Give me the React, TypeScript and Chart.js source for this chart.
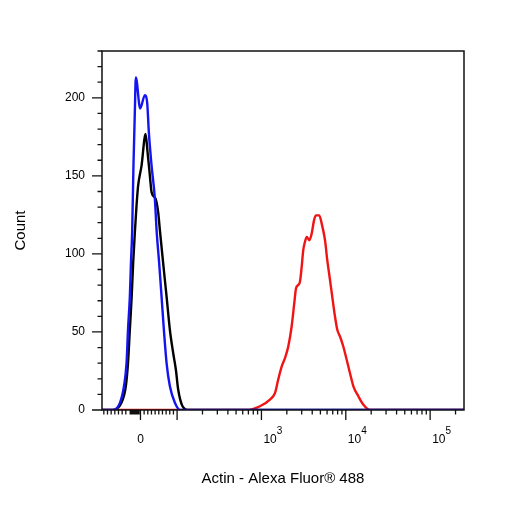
import { useEffect, useRef } from 'react'
import { Chart, registerables } from 'chart.js'

Chart.register(...registerables)

// fluorescence range shown on the biexponential x axis
const X_MIN = -105
const X_MAX = 252000
const Y_MAX = 230

// unstained / isotype (blue)
const blueX = [-105, -97, -75, -56, -45, -38, -34, -29, -26, -22.7, -19.1, -15.3, -12.6, -0.8, 12, 18.3, 22.9, 30.3, 39.3, 44, 51.1, 57.6, 63.9, 71.3, 80.3, 94, 108, 252000]
const blueY = [0, 0, 0, 4.6, 15.2, 30.1, 51.4, 72.6, 93.9, 114, 156.6, 191.7, 213, 193.2, 201.7, 197, 177.9, 156.6, 135.4, 115.2, 93.9, 72.6, 51.4, 30.1, 15.2, 4.6, 0, 0]

// control (black)
const blackX = [-105, -84, -75, -52, -40, -34, -29, -24, -20, -15.3, -10.7, -6.3, 3, 13.9, 19.4, 25.7, 30.3, 41.2, 48.3, 53, 62, 71.3, 80.3, 89.3, 96.7, 103, 116, 136, 252000]
const blackY = [0, 0, 0, 4.6, 15.2, 30.1, 51.4, 72.6, 93.9, 113.9, 131.1, 143.9, 156.6, 176.8, 165.1, 150.2, 139.6, 135.4, 126.8, 115.2, 93.9, 72.6, 51.4, 36.5, 25.8, 13.1, 2.4, 0, 0]

// Actin - Alexa Fluor 488 stained (red)
const redX = [-105, 667, 960, 1260, 1450, 1580, 1740, 1900, 2080, 2280, 2450, 2570, 2730, 2860, 3000, 3130, 3280, 3440, 3690, 3940, 4200, 4430, 4850, 5180, 5670, 6030, 6500, 6990, 7450, 7930, 8540, 9340, 10250, 11200, 12300, 14100, 16100, 19400, 252000]
const redY = [0, 0, 2.4, 6.7, 11, 19.5, 27.9, 33.3, 40.7, 53.5, 68.4, 78, 80.1, 82.2, 91.7, 102.4, 107.7, 110.9, 108.8, 113, 121.5, 124.7, 124.7, 119.4, 108.8, 96, 83.3, 70.5, 59.8, 51.4, 47.1, 40.7, 32.2, 23.7, 15.2, 8.8, 3.5, 0, 0]

// axis ticks
const xLabelValues = [0, 1000, 10000, 100000]
const xMajorTicks = [0, 100, 1000, 10000, 100000]
const xNearZeroTicks = [-100, -90, -80, -70, -60, -50, -40, -28, -25, -22, -19, -16, -13, -10, -7, -4, 10, 20, 30, 40, 50, 60, 70, 80, 90]
const yTickStep = 10
const yLabelStep = 50

const FONT = '"Liberation Sans", Arial, sans-serif'
const SUP: Record<string, string> = { '3': '3', '4': '4', '5': '5' }

// linear below 100, log10 above (smooth join) -> display units in decades
const LIN = 100
function tx(v: number) {
  return v >= LIN ? Math.log10(v) : Math.log10(LIN) + (v - LIN) / (LIN * Math.LN10)
}

function toPoints(xs: number[], ys: number[]) {
  return xs.map((x, i) => ({ x: tx(x), y: ys[i] }))
}

const flowAxes = {
  id: 'flowAxes',
  afterDraw(chart: any) {
    const { ctx, chartArea: a, scales } = chart
    const xs = scales.x
    const ys = scales.y
    ctx.save()
    ctx.strokeStyle = '#111'
    ctx.lineWidth = 1.5
    ctx.strokeRect(a.left, a.top, a.right - a.left, a.bottom - a.top)

    ctx.lineWidth = 1.3
    ctx.beginPath()
    for (let v = 0; v <= Y_MAX; v += yTickStep) {
      const p = ys.getPixelForValue(v)
      const len = v % yLabelStep === 0 ? 10 : 4.5
      ctx.moveTo(a.left - len, p)
      ctx.lineTo(a.left, p)
    }
    const minor: number[] = [...xNearZeroTicks]
    for (let d = 100; d < X_MAX; d *= 10) {
      for (let k = 2; k <= 9; k++) if (d * k < X_MAX) minor.push(d * k)
    }
    minor.forEach((v) => {
      const p = xs.getPixelForValue(tx(v))
      ctx.moveTo(p, a.bottom)
      ctx.lineTo(p, a.bottom + 4.5)
    })
    xMajorTicks.forEach((v) => {
      const p = xs.getPixelForValue(tx(v))
      ctx.moveTo(p, a.bottom)
      ctx.lineTo(p, a.bottom + 10)
    })
    ctx.stroke()

    ctx.fillStyle = '#000'
    ctx.textBaseline = 'alphabetic'
    xLabelValues.forEach((v) => {
      const p = xs.getPixelForValue(tx(v))
      if (v === 0) {
        ctx.font = '12px ' + FONT
        ctx.textAlign = 'center'
        ctx.fillText('0', p, a.bottom + 33)
      } else {
        ctx.font = '12px ' + FONT
        ctx.textAlign = 'left'
        ctx.fillText('10', p + 2, a.bottom + 33)
        const w = ctx.measureText('10').width
        ctx.font = '10px ' + FONT
        ctx.fillText(SUP[String(Math.round(Math.log10(v)))], p + 2 + w, a.bottom + 24)
      }
    })
    ctx.restore()
  },
}

export default function App() {
  const chartRef = useRef<HTMLCanvasElement>(null)
  const chartInstanceRef = useRef<Chart | null>(null)

  useEffect(() => {
    if (!chartRef.current) return
    const ctx = chartRef.current.getContext('2d')
    if (!ctx) return

    if (chartInstanceRef.current) {
      chartInstanceRef.current.destroy()
    }

    const line = { fill: false, pointRadius: 0, borderWidth: 2.4, cubicInterpolationMode: 'monotone' as const }

    chartInstanceRef.current = new Chart(ctx, {
      type: 'line',
      data: {
        datasets: [
          { ...line, label: 'Blue', data: toPoints(blueX, blueY), borderColor: '#1414f0' },
          { ...line, label: 'Black', data: toPoints(blackX, blackY), borderColor: '#000000' },
          { ...line, label: 'Red', data: toPoints(redX, redY), borderColor: '#f01414' },
        ],
      },
      options: {
        animation: false,
        responsive: true,
        maintainAspectRatio: false,
        layout: { padding: { left: 0, top: 51, right: 42, bottom: 0 } },
        plugins: {
          legend: { display: false },
          tooltip: { enabled: false },
        },
        scales: {
          x: {
            type: 'linear',
            min: tx(X_MIN),
            max: tx(X_MAX),
            grid: { display: false, drawTicks: false },
            border: { display: false },
            ticks: { display: false },
            title: {
              display: true,
              text: 'Actin - Alexa Fluor® 488',
              color: '#000',
              font: { family: FONT, size: 15 },
              padding: { top: 0, bottom: 18.5 },
            },
            afterFit: (scale: any) => {
              scale.height = 96
            },
          },
          y: {
            type: 'linear',
            min: 0,
            max: Y_MAX,
            grid: { display: false, drawTicks: false },
            border: { display: false },
            ticks: {
              stepSize: yTickStep,
              autoSkip: false,
              padding: 17,
              color: '#000',
              font: { family: FONT, size: 12 },
              callback: (v: any) => (Number(v) % yLabelStep === 0 ? String(v) : ''),
            },
            title: {
              display: true,
              text: 'Count',
              color: '#000',
              font: { family: FONT, size: 15 },
              padding: { top: 11.5, bottom: 0 },
            },
            afterFit: (scale: any) => {
              scale.width = 102
            },
          },
        },
      },
      plugins: [flowAxes],
    })

    return () => {
      chartInstanceRef.current?.destroy()
      chartInstanceRef.current = null
    }
  }, [])

  return (
    <div style={{ position: 'fixed', left: 0, top: 0, width: 506, height: 506, background: '#fff' }}>
      <canvas ref={chartRef}></canvas>
    </div>
  )
}
